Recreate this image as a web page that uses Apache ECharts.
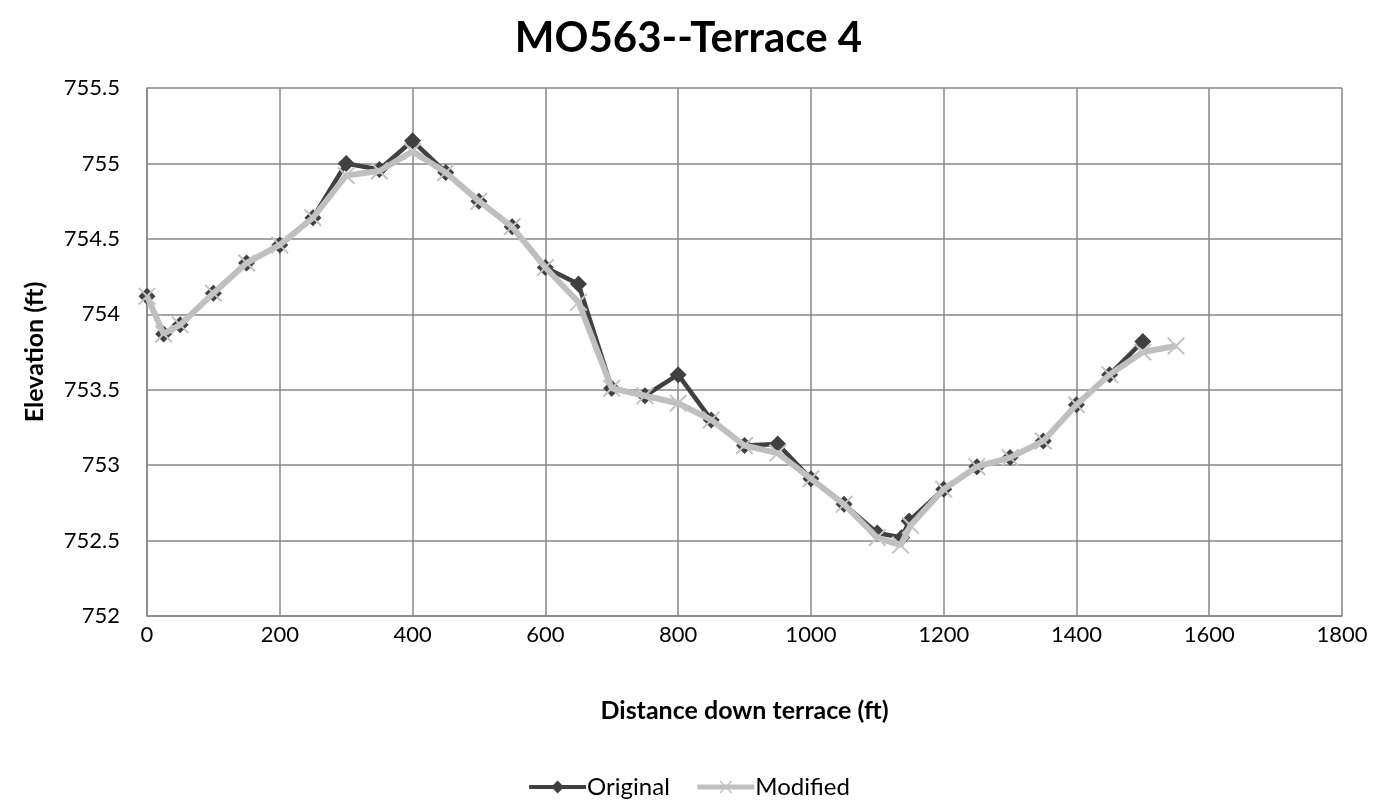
<!DOCTYPE html>
<html>
<head>
<meta charset="utf-8">
<title>MO563--Terrace 4</title>
<script src="https://cdn.jsdelivr.net/npm/echarts@6/dist/echarts.min.js"></script>
<style>
  html, body { margin: 0; padding: 0; background: #ffffff; }
  #chart { width: 1377px; height: 801px; }
</style>
</head>
<body>
<div id="chart"></div>
<script>
// Survey profile along the terrace: distance (ft) and elevation (ft)
const originalDistance = [0, 25, 50, 100, 150, 200, 250, 300, 350, 400, 450, 500, 550, 600, 650, 700, 750, 800, 850, 900, 950, 1000, 1050, 1100, 1137, 1148, 1200, 1250, 1300, 1350, 1400, 1450, 1500];
const originalElevation = [754.12, 753.87, 753.93, 754.14, 754.34, 754.46, 754.64, 755.00, 754.96, 755.15, 754.94, 754.75, 754.58, 754.31, 754.20, 753.51, 753.46, 753.60, 753.30, 753.13, 753.14, 752.91, 752.74, 752.55, 752.52, 752.63, 752.84, 752.99, 753.05, 753.16, 753.40, 753.60, 753.82];

const modifiedDistance = [0, 25, 50, 100, 150, 200, 250, 300, 350, 400, 450, 500, 550, 600, 650, 700, 750, 800, 850, 900, 950, 1000, 1050, 1100, 1135, 1150, 1200, 1250, 1300, 1350, 1400, 1450, 1500, 1550];
const modifiedElevation = [754.12, 753.87, 753.93, 754.14, 754.34, 754.46, 754.64, 754.92, 754.95, 755.08, 754.94, 754.75, 754.58, 754.31, 754.08, 753.51, 753.46, 753.41, 753.30, 753.13, 753.08, 752.91, 752.74, 752.52, 752.47, 752.60, 752.84, 752.99, 753.05, 753.16, 753.40, 753.60, 753.75, 753.79];

const seriesNames = ['Original', 'Modified'];

function pairs(xs, ys) {
  return xs.map((x, i) => [x, ys[i]]);
}

const FONT = 'Lato, "Open Sans", sans-serif';
const GRID_COLOR = '#878787';
const DARK = '#404040';
const LIGHT = '#bfbfbf';
// thin "x" marker
const CROSS = 'path://M0,0.8 L0.8,0 L10,9.2 L9.2,10 Z M9.2,0 L10,0.8 L0.8,10 L0,9.2 Z';

const chart = echarts.init(document.getElementById('chart'), null, { renderer: 'canvas' });

chart.setOption({
  backgroundColor: '#ffffff',
  animation: false,
  title: {
    text: 'MO563--Terrace 4',
    left: 'center',
    top: 12,
    textStyle: { fontFamily: FONT, fontSize: 42, fontWeight: 'bold', color: '#000000' }
  },
  grid: { left: 147, right: 35, top: 88, bottom: 185, containLabel: false },
  xAxis: {
    type: 'value',
    min: 0,
    max: 1800,
    interval: 200,
    name: 'Distance down terrace (ft)',
    nameLocation: 'middle',
    nameGap: 82,
    nameTextStyle: { fontFamily: FONT, fontSize: 25, fontWeight: 'bold', color: '#000000' },
    axisLine: { lineStyle: { color: GRID_COLOR, width: 1.5 } },
    axisTick: { show: false },
    axisLabel: { fontFamily: FONT, fontSize: 22, color: '#000000', margin: 8, formatter: v => String(v) },
    splitLine: { show: true, lineStyle: { color: GRID_COLOR, width: 1.5 } }
  },
  yAxis: {
    type: 'value',
    min: 752,
    max: 755.5,
    interval: 0.5,
    name: 'Elevation (ft)',
    nameLocation: 'middle',
    nameGap: 100,
    nameTextStyle: { fontFamily: FONT, fontSize: 25, fontWeight: 'bold', color: '#000000' },
    axisLine: { show: true, lineStyle: { color: GRID_COLOR, width: 1.5 } },
    axisTick: { show: false },
    axisLabel: { fontFamily: FONT, fontSize: 22, color: '#000000', margin: 27, formatter: v => String(v) },
    splitLine: { show: true, lineStyle: { color: GRID_COLOR, width: 1.5 } }
  },
  legend: {
    data: [
      { name: seriesNames[0], lineStyle: { width: 4, color: DARK } },
      { name: seriesNames[1], lineStyle: { width: 5, color: LIGHT } }
    ],
    top: 770,
    left: 'center',
    itemWidth: 57,
    itemHeight: 16,
    itemGap: 25,
    textStyle: { fontFamily: FONT, fontSize: 24, color: '#000000', padding: [0, 0, 0, -4] }
  },
  series: [
    {
      name: seriesNames[0],
      type: 'line',
      data: pairs(originalDistance, originalElevation),
      symbol: 'diamond',
      symbolSize: 17,
      showAllSymbol: true,
      lineStyle: { color: DARK, width: 4.5 },
      itemStyle: { color: DARK },
      z: 2
    },
    {
      name: seriesNames[1],
      type: 'line',
      data: pairs(modifiedDistance, modifiedElevation),
      symbol: CROSS,
      symbolSize: 18,
      showAllSymbol: true,
      lineStyle: { color: LIGHT, width: 6 },
      itemStyle: { color: '#c4c4c4' },
      z: 3
    }
  ]
});
</script>
</body>
</html>
